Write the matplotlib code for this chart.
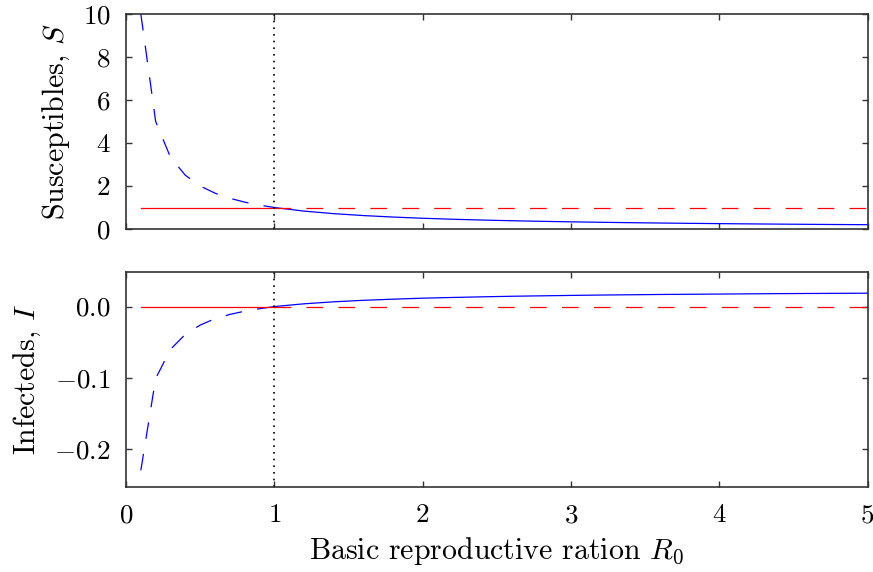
import matplotlib
matplotlib.use("Agg")
import matplotlib.pyplot as plt
from matplotlib.ticker import FuncFormatter

plt.rcParams['font.family'] = ['serif']
plt.rcParams['font.serif'] = ['cmr10', 'DejaVu Serif']
plt.rcParams['mathtext.fontset'] = 'cm'
plt.rcParams['axes.formatter.use_mathtext'] = True
plt.rcParams['lines.scale_dashes'] = False

# Unstable branch (R0 < 1) of the endemic equilibrium
r0_low = [0.1, 0.2, 0.3, 0.4, 0.5, 0.6, 0.7, 0.8, 0.9, 1.0]
s_low = [10.0, 5.0, 3.333, 2.5, 2.0, 1.667, 1.429, 1.25, 1.111, 1.0]
i_low = [-0.230, -0.101, -0.060, -0.039, -0.026, -0.017, -0.011, -0.0065, -0.003, 0.0]

# Stable branch (R0 > 1) of the endemic equilibrium
r0_high = [1.0, 1.2, 1.4, 1.6, 1.8, 2.0, 2.2, 2.4, 2.6, 2.8, 3.0,
           3.2, 3.4, 3.6, 3.8, 4.0, 4.2, 4.4, 4.6, 4.8, 5.0]
s_high = [1.0, 0.833, 0.714, 0.625, 0.556, 0.5, 0.455, 0.417, 0.385, 0.357, 0.333,
          0.3125, 0.294, 0.278, 0.263, 0.25, 0.238, 0.227, 0.217, 0.208, 0.2]
i_high = [0.0, 0.0039, 0.0067, 0.0088, 0.0104, 0.0118, 0.0128, 0.0137, 0.0145, 0.0151, 0.0157,
          0.0162, 0.0166, 0.0170, 0.0173, 0.0176, 0.0179, 0.0182, 0.0184, 0.0186, 0.0188]

# Disease-free equilibrium
dfe_x_stable = [0.1, 1.0]
dfe_x_unstable = [1.0, 5.0]
dfe_s = [1.0, 1.0]
dfe_i = [0.0, 0.0]

threshold = 1.0

x_ticks = [0, 1, 2, 3, 4, 5]
s_ticks = [0, 2, 4, 6, 8, 10]
i_ticks = [-0.2, -0.1, 0.0]

W, H = 873, 572
fig = plt.figure(figsize=(W / 100, H / 100), dpi=100)
ax1 = fig.add_axes([126 / W, 1 - 229 / H, (867.5 - 126) / W, (229 - 14) / H])
ax2 = fig.add_axes([126 / W, 1 - 486.7 / H, (867.5 - 126) / W, (486.7 - 271.7) / H])

dash = (0, (12, 11))
dot = (0, (1.2, 3.6))
lw = 0.9

ax1.plot(r0_low, s_low, color='blue', lw=lw, linestyle=dash)
ax1.plot(r0_high, s_high, color='blue', lw=lw)
ax1.plot(dfe_x_stable, dfe_s, color='red', lw=lw)
ax1.plot(dfe_x_unstable, dfe_s, color='red', lw=lw, linestyle=dash)
ax1.axvline(threshold, color='black', lw=1.2, linestyle=dot)

ax2.plot(r0_low, i_low, color='blue', lw=lw, linestyle=dash)
ax2.plot(r0_high, i_high, color='blue', lw=lw)
ax2.plot(dfe_x_stable, dfe_i, color='red', lw=lw)
ax2.plot(dfe_x_unstable, dfe_i, color='red', lw=lw, linestyle=dash)
ax2.axvline(threshold, color='black', lw=1.2, linestyle=dot)

ax1.set_xlim(0, 5)
ax1.set_ylim(0, 10)
ax2.set_xlim(0, 5)
ax2.set_ylim(-0.253, 0.049)

ax1.set_xticks(x_ticks)
ax1.set_xticklabels([])
ax1.set_yticks(s_ticks)
ax1.yaxis.set_major_formatter(FuncFormatter(lambda v, p: f'${v:.0f}$'))
ax2.set_xticks(x_ticks)
ax2.xaxis.set_major_formatter(FuncFormatter(lambda v, p: f'${v:.0f}$'))
ax2.set_yticks(i_ticks)
ax2.yaxis.set_major_formatter(FuncFormatter(lambda v, p: f'${v:.1f}$'))

for ax in (ax1, ax2):
    ax.tick_params(direction='in', top=True, right=True, length=4, width=1.0,
                   color='#333333', labelsize=19.5)
    ax.tick_params(axis='y', pad=11)
    ax.tick_params(axis='x', pad=12)
    for sp in ax.spines.values():
        sp.set_color('#333333')
        sp.set_linewidth(1.2)

ax1.set_ylabel('Susceptibles, $S$', fontsize=21.5, labelpad=8)
ax2.set_ylabel('Infecteds, $I$', fontsize=21.5, labelpad=8)
ax2.set_xlabel('Basic reproductive ration $R_0$', fontsize=21.5, labelpad=6)

fig.savefig('out.png', dpi=100)
